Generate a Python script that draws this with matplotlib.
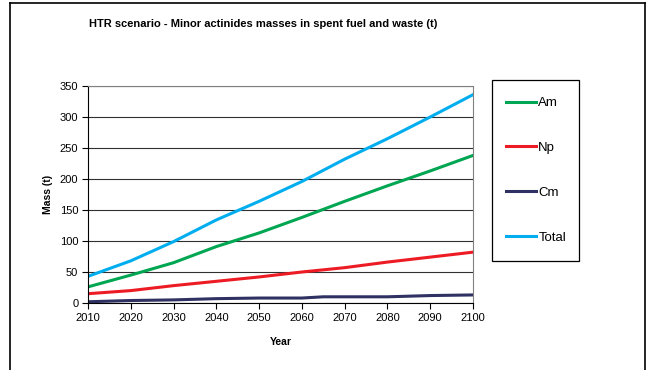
import matplotlib.pyplot as plt
from matplotlib.lines import Line2D
from matplotlib.patches import Rectangle

plt.rcParams['font.family'] = ['Liberation Sans', 'DejaVu Sans']

years = [2010, 2020, 2030, 2040, 2050, 2060, 2070, 2080, 2090, 2100]
am = [26, 45, 65, 91, 113, 138, 164, 189, 213, 238]
np_ = [15, 20, 28, 35, 42, 50, 57, 66, 74, 82]
total = [43, 68, 99, 134, 164, 196, 232, 265, 300, 336]
cm_years = [2010, 2020, 2030, 2040, 2050, 2060, 2065, 2070, 2080, 2090, 2100]
cm = [2, 4, 5, 7, 8, 8, 10, 10, 10, 12, 13]

W, H = 651, 370
fig = plt.figure(figsize=(W / 100, H / 100), dpi=100)

# outer chart frame
frame = dict(color='black', lw=1.2, transform=fig.transFigure)
fig.add_artist(Line2D([10/W, 10/W], [0, 1 - 3/H], **frame))
fig.add_artist(Line2D([10/W, 645/W], [1 - 3/H, 1 - 3/H], **frame))
fig.add_artist(Line2D([645/W, 645/W], [0, 1 - 3/H], **frame))

ax = fig.add_axes([88/W, 1 - 303/H, 385/W, 217/H])

ax.plot(years, am, color='#00a651', lw=2.2, label='Am')
ax.plot(years, np_, color='#ed1c24', lw=2.2, label='Np')
ax.plot(cm_years, cm, color='#2e3162', lw=2.2, label='Cm')
ax.plot(years, total, color='#00aeef', lw=2.2, label='Total')

ax.set_xlim(2010, 2100)
ax.set_ylim(0, 350)
ax.set_xticks(range(2010, 2101, 10))
ax.set_yticks(range(0, 351, 50))
ax.tick_params(labelsize=8, direction='out', length=4, width=0.8, pad=3)
ax.grid(axis='y', color='#303030', lw=0.8)
ax.set_axisbelow(True)
for s in ['top', 'right']:
    ax.spines[s].set_color('#808080')
for s in ['left', 'bottom']:
    ax.spines[s].set_color('black')

ax.set_xlabel('Year', fontsize=7.5, fontweight='bold', labelpad=10)
ax.set_ylabel('Mass (t)', fontsize=7.5, fontweight='bold', labelpad=5)

fig.text(263/W, 1 - 24/H, 'HTR scenario - Minor actinides masses in spent fuel and waste (t)',
         ha='center', va='center', fontsize=8, fontweight='bold')

# legend box drawn separately, entries placed inside it
fig.add_artist(Rectangle((492/W, 1 - 261/H), 87/W, 181/H, transform=fig.transFigure,
                         fill=False, edgecolor='black', lw=0.9))
leg = fig.legend(loc='upper left', bbox_to_anchor=(506/W, 1 - 97/H), fontsize=9.5,
                 frameon=False, handlelength=2.3, handletextpad=0.15, labelspacing=2.47,
                 borderpad=0, borderaxespad=0)

fig.savefig('out.png', dpi=100)
